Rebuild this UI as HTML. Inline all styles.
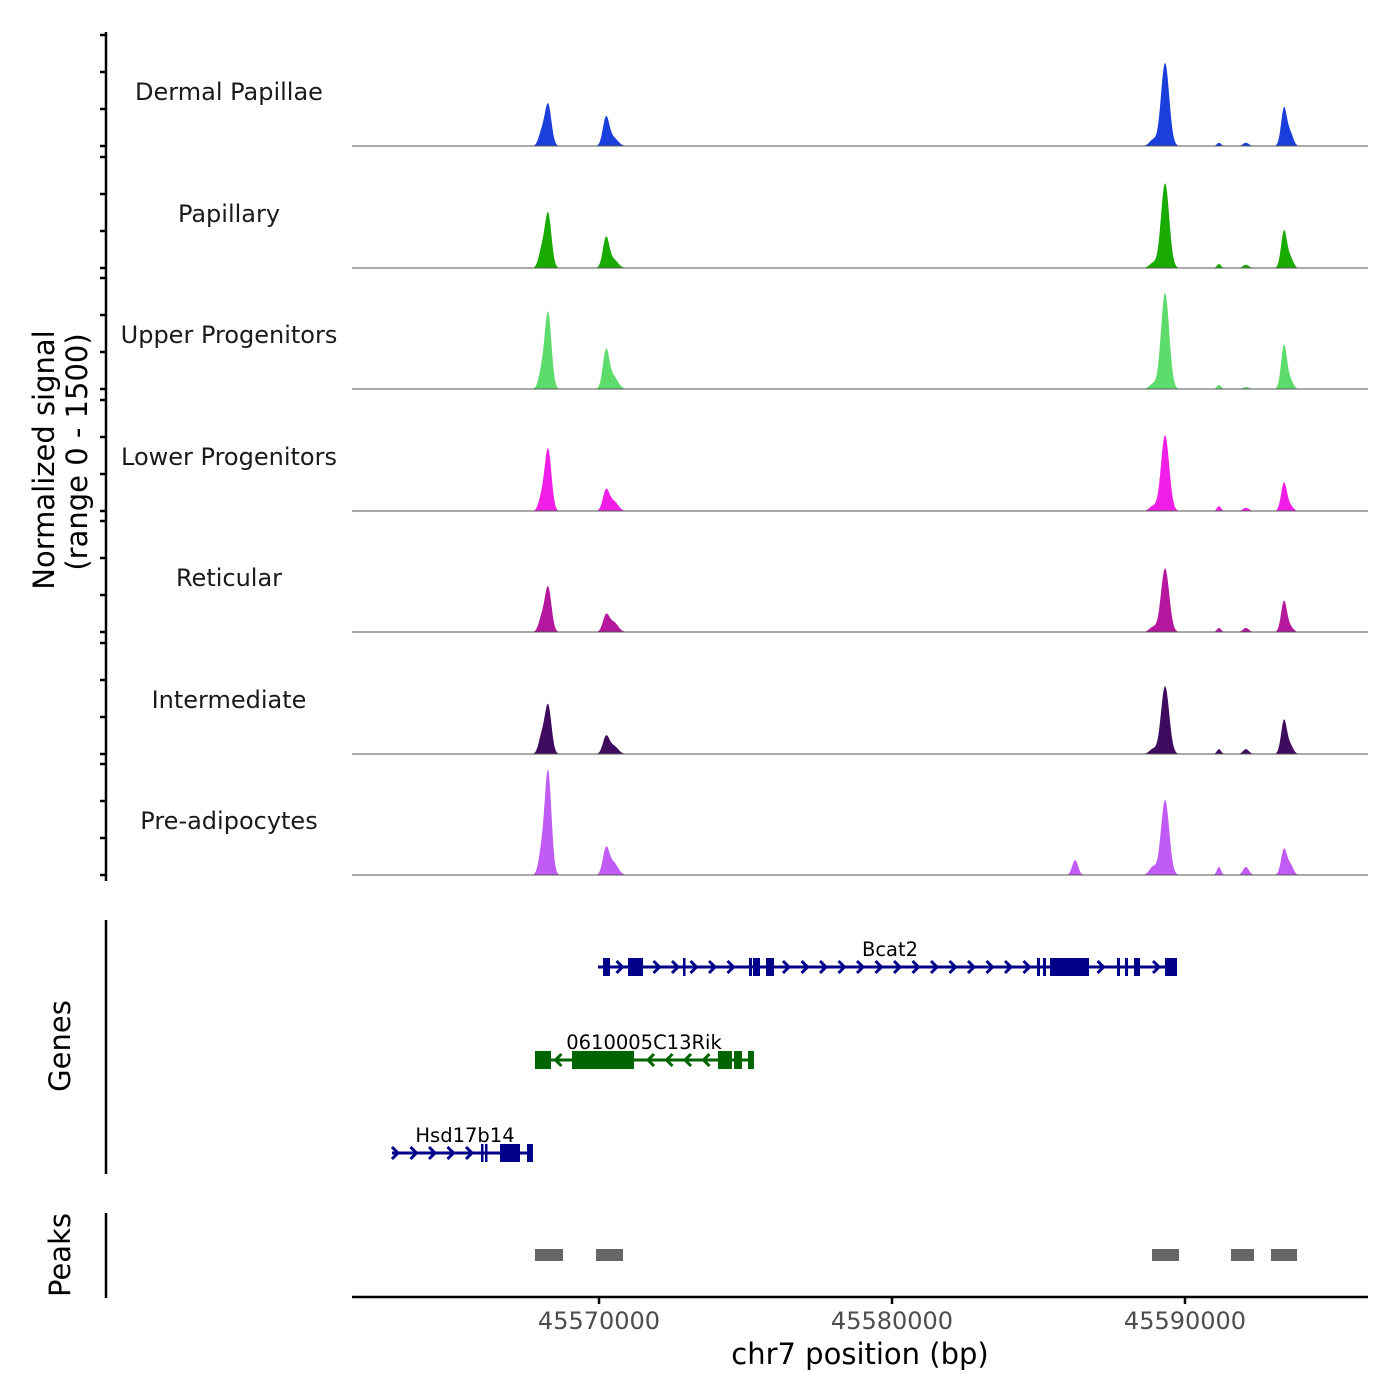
<!DOCTYPE html>
<html><head><meta charset="utf-8"><style>
html,body{margin:0;padding:0;background:#fff;width:1400px;height:1400px;overflow:hidden}
svg{display:block;font-family:"DejaVu Sans","Liberation Sans",sans-serif}
</style></head><body>
<svg id="chart" width="1400" height="1400" viewBox="0 0 1400 1400">
<g id="yaxes"></g>
<g id="tracks"></g>
<g id="genes"></g>
<g id="peaks"></g>
<g id="xaxis"></g>
<text transform="translate(54,460) rotate(-90)" text-anchor="middle" font-size="29" fill="#000">Normalized signal</text>
<text transform="translate(87,452) rotate(-90)" text-anchor="middle" font-size="29" fill="#000">(range 0 - 1500)</text>
<text transform="translate(70,1046) rotate(-90)" text-anchor="middle" font-size="29" fill="#000">Genes</text>
<text transform="translate(70,1255) rotate(-90)" text-anchor="middle" font-size="29" fill="#000">Peaks</text>
<text x="860" y="1364" text-anchor="middle" font-size="29" fill="#000">chr7 position (bp)</text>
</svg>
<script>
const trackNames=["Dermal Papillae","Papillary","Upper Progenitors","Lower Progenitors","Reticular","Intermediate","Pre-adipocytes"];
const trackColors=["#1a3fdc","#1aab00","#5ddc6c","#f01ee6","#b5179e","#3e0b5e","#c05cf5"];
const peakCenters=[45568260,45568030,45570240,45570500,45589320,45593380,45593600,45591160,45592080,45586250,45588900];
const peakWidths=[115,100,110,150,140,100,100,70,100,100,120];
const heightsDermal=[520,150,350,100,1030,470,150,40,40,0,75];
const heightsPapillary=[680,190,370,100,1050,460,120,50,40,0,60];
const heightsUpper=[950,190,470,150,1190,545,100,50,25,0,60];
const heightsLower=[770,150,250,120,940,350,60,60,40,0,60];
const heightsReticular=[560,150,200,120,790,385,60,50,50,0,60];
const heightsIntermediate=[610,190,210,100,840,420,100,60,60,0,60];
const heightsPre=[1290,250,320,150,930,320,120,100,100,185,100];
const trackHeights=[heightsDermal,heightsPapillary,heightsUpper,heightsLower,heightsReticular,heightsIntermediate,heightsPre];
const xTicks=[45570000,45580000,45590000];
const bcat2Span=[45569966,45589727];
const bcat2Exons=[[45570137,45570375],[45570990,45571502],[45572867,45572901],[45575120,45575222],[45575256,45575495],[45575700,45575973],[45584949,45585051],[45585154,45585256],[45585393,45586724],[45587680,45587782],[45587953,45588055],[45588260,45588465],[45589318,45589727]];
const rikSpan=[45567816,45575290];
const rikExons=[[45567816,45568362],[45569078,45571195],[45574061,45574539],[45574608,45574881],[45575085,45575290]];
const hsdSpan=[45562935,45567747];
const hsdExons=[[45565973,45566007],[45566109,45566177],[45566621,45567304],[45567543,45567747]];
const peakRegions=[[45567816,45568771],[45569898,45570819],[45588874,45589795],[45591570,45592355],[45592935,45593823]];

const NS="http://www.w3.org/2000/svg";
function mk(tag,attrs,parent){const e=document.createElementNS(NS,tag);for(const k in attrs)e.setAttribute(k,attrs[k]);parent.appendChild(e);return e;}
const X0=352,X1=1368;
function xs(bp){return 599+(bp-45570000)*0.0293;}
const xmin=45570000+(X0-599)/0.0293, xmax=45570000+(X1-599)/0.0293;
const baselines=[146,268,389,511,632,754,875];
function ys(v,b){return b-v*121/1500;}

const yax=document.getElementById('yaxes');
let l=mk('line',{x1:106,y1:32,x2:106,y2:881,stroke:'#000','stroke-width':2.5},yax);

baselines.forEach(b=>{for(let k=0;k<4;k++){const y=b-k*37;
 const t=mk('line',{x1:100,y1:y,x2:106,y2:y,stroke:'#000','stroke-width':2.5},yax);
 }});
l=mk('line',{x1:106,y1:920,x2:106,y2:1174,stroke:'#000','stroke-width':2.5},yax);

l=mk('line',{x1:106,y1:1213,x2:106,y2:1298,stroke:'#000','stroke-width':2.5},yax);


const tg=document.getElementById('tracks');
trackNames.forEach((name,i)=>{
 const b=baselines[i],h=trackHeights[i];
 let d=`M${X0},${b}`;
 for(let px=X0;px<=X1;px+=0.5){
  const bp=xmin+(px-X0)/0.0293;let v=0;
  for(let j=0;j<peakCenters.length;j++){const z=(bp-peakCenters[j])/peakWidths[j];v+=h[j]*Math.exp(-0.5*z*z);}
  d+=`L${px.toFixed(1)},${ys(Math.min(v,1500),b).toFixed(2)}`;
 }
 d+=`L${X1},${b}Z`;
 const p=mk('path',{d:d,fill:trackColors[i]},tg);
 
 
 const bl=mk('line',{x1:X0,y1:b,x2:X1,y2:b,stroke:'#555','stroke-width':1},tg);
 
 const t=mk('text',{x:229,y:b-46,'text-anchor':'middle','font-size':24,fill:'#1a1a1a'},tg);
 t.textContent=name;
 
});

const gg=document.getElementById('genes');
function gene(name,span,exons,y,color,dir,labelX){
 const g=mk('g',{},gg);
 
 mk('line',{x1:xs(span[0]),y1:y,x2:xs(span[1]),y2:y,stroke:color,'stroke-width':3},g);
 const ex=exons.map(e=>[xs(e[0]),xs(e[1])]);
 for(let px=xs(span[0])+4;px<xs(span[1])-3;px+=18.5){
  if(ex.some(e=>px>e[0]-5&&px<e[1]+5))continue;
  const d=dir>0?`M${px-4},${y-6}L${px+2},${y}L${px-4},${y+6}`:`M${px+4},${y-6}L${px-2},${y}L${px+4},${y+6}`;
  mk('path',{d:d,fill:'none',stroke:color,'stroke-width':3},g);
 }
 ex.forEach(e=>mk('rect',{x:e[0],y:y-9,width:Math.max(2.5,e[1]-e[0]),height:18,fill:color},g));
 const t=mk('text',{x:labelX,y:y-11,'text-anchor':'middle','font-size':19.5,fill:'#000'},g);
 t.textContent=name;
 
}
gene('Bcat2',bcat2Span,bcat2Exons,967,'#00008b',1,890);
gene('0610005C13Rik',rikSpan,rikExons,1060,'#006400',-1,644);
gene('Hsd17b14',hsdSpan,hsdExons,1153,'#00008b',1,465);

const pg=document.getElementById('peaks');
peakRegions.forEach(r=>{
 const e=mk('rect',{x:xs(r[0]),y:1249,width:xs(r[1])-xs(r[0]),height:12,fill:'#666'},pg);
 
});

const xg=document.getElementById('xaxis');
l=mk('line',{x1:X0,y1:1297,x2:X1,y2:1297,stroke:'#000','stroke-width':2.5},xg);

xTicks.forEach(v=>{
 const t=mk('line',{x1:xs(v),y1:1297,x2:xs(v),y2:1304,stroke:'#000','stroke-width':2.5},xg);
 
 const tx=mk('text',{x:xs(v),y:1329,'text-anchor':'middle','font-size':24,fill:'#4d4d4d'},xg);
 tx.textContent=String(v);
 
});
</script>
</body></html>
